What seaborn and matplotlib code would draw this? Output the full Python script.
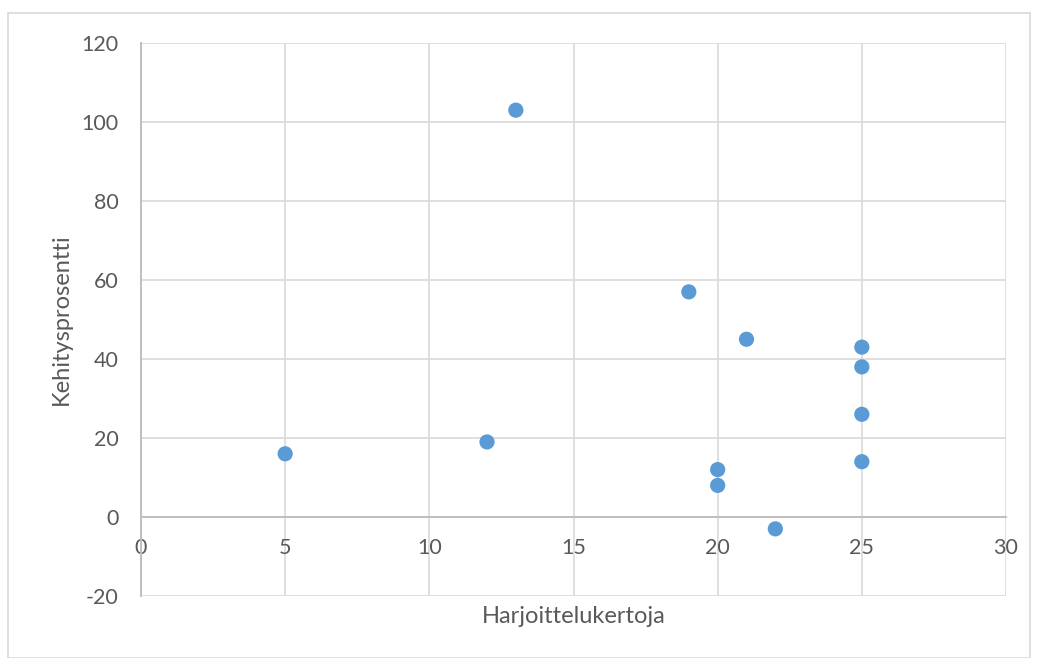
import matplotlib
matplotlib.use("Agg")
import matplotlib.pyplot as plt
import seaborn as sns
import pandas as pd
from matplotlib.patches import Rectangle

harjoittelukerrat = [5, 12, 13, 19, 20, 20, 21, 22, 25, 25, 25, 25]
kehitysprosentti = [16, 19, 103, 57, 12, 8, 45, -3, 43, 38, 26, 14]
x_ticks = [0, 5, 10, 15, 20, 25, 30]
y_ticks = [-20, 0, 20, 40, 60, 80, 100, 120]

df = pd.DataFrame({"x": harjoittelukerrat, "y": kehitysprosentti})

sns.set_theme(style="white")
plt.rcParams['font.family'] = ['Lato', 'DejaVu Sans']
plt.rcParams['axes.unicode_minus'] = False

fig = plt.figure(figsize=(10.37, 6.58), dpi=100)
ax = fig.add_axes([141/1037, 62/658, 865/1037, 553/658])

sns.scatterplot(data=df, x="x", y="y", ax=ax, color="#5b9bd5", s=120,
                edgecolor="none", zorder=3, clip_on=False)

ax.set_xlim(0, 30)
ax.set_ylim(-20, 120)
ax.set_xticks(x_ticks)
ax.set_yticks(y_ticks)
ax.grid(True, color="#d9d9d9", linewidth=1.2)
ax.set_axisbelow(True)

for s in ["top", "right"]:
    ax.spines[s].set_visible(False)
ax.spines["bottom"].set_position(("data", 0))
ax.spines["bottom"].set_color("#bfbfbf")
ax.spines["bottom"].set_linewidth(1.4)
ax.spines["left"].set_color("#bfbfbf")
ax.spines["left"].set_linewidth(1.4)

ax.tick_params(axis="x", length=0, pad=15, labelsize=15.5, labelcolor="#595959")
ax.tick_params(axis="y", length=0, pad=16, labelsize=15.5, labelcolor="#595959")

ax.set_xlabel("Harjoittelukertoja", fontsize=17, color="#595959")
ax.set_ylabel("Kehitysprosentti", fontsize=17, color="#595959")
ax.xaxis.set_label_coords(0.5, (596 - 606) / 553)
ax.yaxis.set_label_coords((72 - 141) / 865, 0.5)

fig.patches.append(Rectangle((8/1037, 0), 1022/1037, 645/658, transform=fig.transFigure,
                             fill=False, edgecolor="#d9d9d9", linewidth=1.2))

fig.savefig("out.png", dpi=100)
